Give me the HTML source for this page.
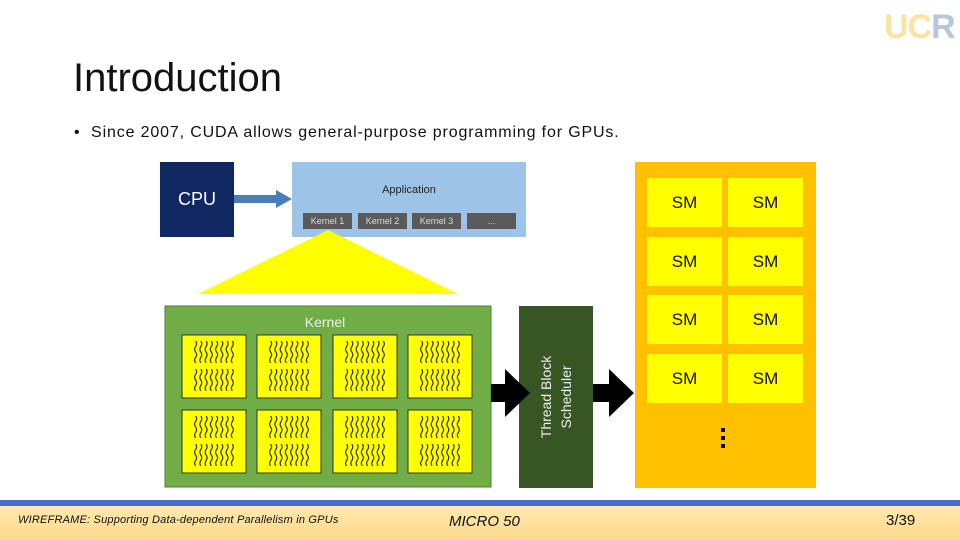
<!DOCTYPE html>
<html><head><meta charset="utf-8"><style>
body{margin:0;width:960px;height:540px;overflow:hidden;background:#fff;font-family:"Liberation Sans",sans-serif;position:relative}
.a{position:absolute}
.sm{position:absolute;width:75px;height:49px;background:#ffff00;font-size:17px;color:#111;text-align:center;line-height:49px}
.k{position:absolute;top:213px;width:49px;height:16px;background:#5a5a5a;color:#ddd;font-size:9px;text-align:center;line-height:16px}
</style></head><body>
<div class="a" style="left:884px;top:8px;font-size:34px;font-weight:bold;letter-spacing:-1px;"><span style="color:#fbe3a3">UC</span><span style="color:#b8c6dc">R</span></div>
<div class="a" style="left:73px;top:56px;font-size:40px;color:#111;letter-spacing:0px">Introduction</div>
<div class="a" style="left:74px;top:124px;font-size:16px;color:#111;letter-spacing:0.85px">•&nbsp; Since 2007, CUDA allows general-purpose programming for GPUs.</div>

<div class="a" style="left:160px;top:162px;width:74px;height:75px;background:#0f2862;color:#fff;font-size:18px;text-align:center;line-height:75px">CPU</div>
<div class="a" style="left:292px;top:162px;width:234px;height:75px;background:#9dc3e6"></div>
<div class="a" style="left:292px;top:184px;width:234px;text-align:center;font-size:11px;color:#222">Application</div>
<div class="k" style="left:303px">Kernel 1</div><div class="k" style="left:358px">Kernel 2</div><div class="k" style="left:412px">Kernel 3</div><div class="k" style="left:467px">...</div>

<svg class="a" style="left:0;top:0" width="960" height="540">
<defs>
<pattern id="w" x="0" y="0" width="0.125" height="1" patternUnits="objectBoundingBox" patternContentUnits="userSpaceOnUse">
<path d="M2.6 0 q2 2.75 0 5.5 q-2 2.75 0 5.5 q2 2.75 0 5.5 q-2 2.75 0 5.5" stroke="#222" stroke-width="1.1" fill="none"/></pattern>
<linearGradient id="f" x1="0" y1="0" x2="0" y2="1"><stop offset="0" stop-color="#ffe9b0"/><stop offset="1" stop-color="#fdd98a"/></linearGradient>
</defs>
<polygon points="234,195 276,195 276,190 292,199 276,208 276,203 234,203" fill="#4a7ebb"/>
<polygon points="328,230 458,294 198,294" fill="#ffff00"/>
<rect x="165" y="306" width="326" height="181" fill="#70ad47" stroke="#507e32"/>
<text x="325" y="327" font-size="14" fill="#eee" text-anchor="middle" font-family="Liberation Sans">Kernel</text>
<g fill="#ff0" stroke="#333">
<rect x="182" y="335" width="64" height="63"/><rect x="257" y="335" width="64" height="63"/><rect x="333" y="335" width="64" height="63"/><rect x="408" y="335" width="64" height="63"/>
<rect x="182" y="410" width="64" height="63"/><rect x="257" y="410" width="64" height="63"/><rect x="333" y="410" width="64" height="63"/><rect x="408" y="410" width="64" height="63"/>
</g>
<g fill="url(#w)">
<rect x="193" y="341" width="42" height="22"/><rect x="193" y="369" width="42" height="22"/>
<rect x="268" y="341" width="42" height="22"/><rect x="268" y="369" width="42" height="22"/>
<rect x="344" y="341" width="42" height="22"/><rect x="344" y="369" width="42" height="22"/>
<rect x="419" y="341" width="42" height="22"/><rect x="419" y="369" width="42" height="22"/>
<rect x="193" y="416" width="42" height="22"/><rect x="193" y="444" width="42" height="22"/>
<rect x="268" y="416" width="42" height="22"/><rect x="268" y="444" width="42" height="22"/>
<rect x="344" y="416" width="42" height="22"/><rect x="344" y="444" width="42" height="22"/>
<rect x="419" y="416" width="42" height="22"/><rect x="419" y="444" width="42" height="22"/>
</g>
<rect x="519" y="306" width="74" height="182" fill="#375623"/>
<text transform="translate(551,397) rotate(-90)" font-size="14" fill="#eee" text-anchor="middle" font-family="Liberation Sans">Thread Block</text>
<text transform="translate(571,397) rotate(-90)" font-size="14" fill="#eee" text-anchor="middle" font-family="Liberation Sans">Scheduler</text>
<polygon points="491,384 505,384 505,369 530,393 505,417 505,402 491,402" fill="#000"/>
<polygon points="593,384 609,384 609,369 634,393 609,417 609,402 593,402" fill="#000"/>
<rect x="635" y="162" width="181" height="326" fill="#ffc000"/>
<rect x="721" y="428" width="4" height="4" fill="#000"/><rect x="721" y="436" width="4" height="4" fill="#000"/><rect x="721" y="444" width="4" height="4" fill="#000"/>
<rect x="0" y="500" width="960" height="6" fill="#4472c4"/>
<rect x="0" y="506" width="960" height="34" fill="url(#f)"/>
</svg>
<div class="sm" style="left:647px;top:178px">SM</div><div class="sm" style="left:728px;top:178px">SM</div>
<div class="sm" style="left:647px;top:237px">SM</div><div class="sm" style="left:728px;top:237px">SM</div>
<div class="sm" style="left:647px;top:295px">SM</div><div class="sm" style="left:728px;top:295px">SM</div>
<div class="sm" style="left:647px;top:354px">SM</div><div class="sm" style="left:728px;top:354px">SM</div>
<div class="a" style="left:18px;top:514px;font-size:11px;font-style:italic;color:#111;letter-spacing:0.2px">WIREFRAME: Supporting Data-dependent Parallelism in GPUs</div>
<div class="a" style="left:449px;top:513px;font-size:15px;font-style:italic;color:#111">MICRO 50</div>
<div class="a" style="left:886px;top:512px;font-size:15px;color:#111">3/39</div>
</body></html>
